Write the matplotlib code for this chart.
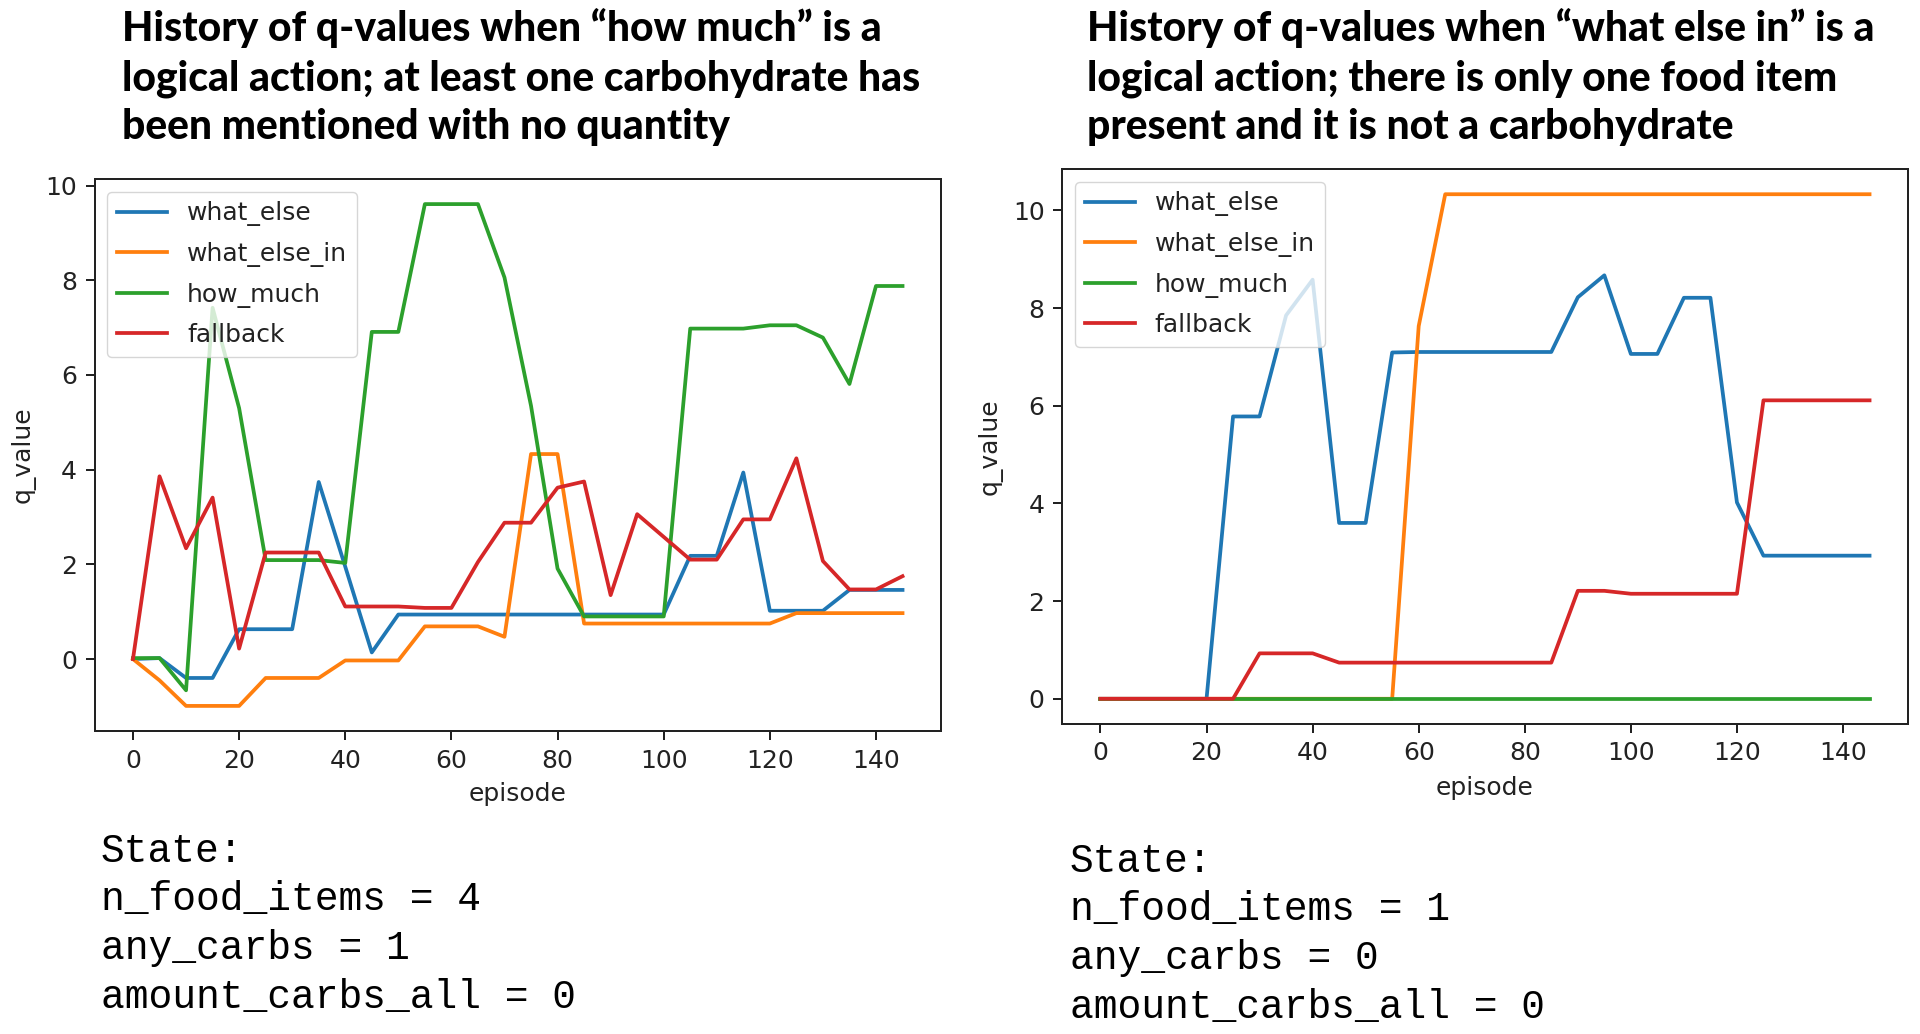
import matplotlib
matplotlib.use("Agg")
import matplotlib.pyplot as plt

episodes = [0, 5, 10, 15, 20, 25, 30, 35, 40, 45, 50, 55, 60, 65, 70,
            75, 80, 85, 90, 95, 100, 105, 110, 115, 120, 125, 130, 135, 140, 145]

# left panel: "how much" is a logical action
what_else_L = [0, 0.02, -0.40, -0.40, 0.63, 0.63, 0.63, 3.74, 1.95, 0.14,
               0.94, 0.94, 0.94, 0.94, 0.94, 0.94, 0.94, 0.94, 0.94, 0.94,
               0.94, 2.18, 2.18, 3.94, 1.02, 1.02, 1.02, 1.46, 1.46, 1.46]
what_else_in_L = [0, -0.45, -0.99, -0.99, -0.99, -0.40, -0.40, -0.40, -0.03, -0.03,
                  -0.03, 0.69, 0.69, 0.69, 0.47, 4.33, 4.33, 0.75, 0.75, 0.75,
                  0.75, 0.75, 0.75, 0.75, 0.75, 0.97, 0.97, 0.97, 0.97, 0.97]
how_much_L = [0.02, 0.02, -0.66, 7.42, 5.3, 2.09, 2.09, 2.09, 2.03, 6.91,
              6.91, 9.61, 9.61, 9.61, 8.06, 5.35, 1.91, 0.90, 0.90, 0.90,
              0.90, 6.98, 6.98, 6.98, 7.05, 7.05, 6.79, 5.81, 7.88, 7.88]
fallback_L = [0, 3.86, 2.34, 3.41, 0.22, 2.25, 2.25, 2.25, 1.11, 1.11,
              1.11, 1.08, 1.08, 2.05, 2.88, 2.88, 3.62, 3.75, 1.35, 3.06,
              2.58, 2.10, 2.10, 2.95, 2.95, 4.24, 2.07, 1.47, 1.47, 1.75]

# right panel: "what else in" is a logical action
what_else_R = [0, 0, 0, 0, 0, 5.78, 5.78, 7.85, 8.58, 3.60,
               3.60, 7.09, 7.10, 7.10, 7.10, 7.10, 7.10, 7.10, 8.22, 8.67,
               7.06, 7.06, 8.21, 8.21, 4.02, 2.93, 2.93, 2.93, 2.93, 2.93]
what_else_in_R = [0, 0, 0, 0, 0, 0, 0, 0, 0, 0,
                  0, 0, 7.63, 10.33, 10.33, 10.33, 10.33, 10.33, 10.33, 10.33,
                  10.33, 10.33, 10.33, 10.33, 10.33, 10.33, 10.33, 10.33, 10.33, 10.33]
how_much_R = [0, 0, 0, 0, 0, 0, 0, 0, 0, 0,
              0, 0, 0, 0, 0, 0, 0, 0, 0, 0,
              0, 0, 0, 0, 0, 0, 0, 0, 0, 0]
fallback_R = [0, 0, 0, 0, 0, 0, 0.93, 0.93, 0.93, 0.74,
              0.74, 0.74, 0.74, 0.74, 0.74, 0.74, 0.74, 0.74, 2.21, 2.21,
              2.15, 2.15, 2.15, 2.15, 2.15, 6.11, 6.11, 6.11, 6.11, 6.11]

labels = ["what_else", "what_else_in", "how_much", "fallback"]

title_L = ["History of q-values when \u201chow much\u201d is a",
           "logical action; at least one carbohydrate has",
           "been mentioned with no quantity"]
title_R = ["History of q-values when \u201cwhat else in\u201d is a",
           "logical action; there is only one food item",
           "present and it is not a carbohydrate"]
state_L = ["State:", "n_food_items = 4", "any_carbs = 1", "amount_carbs_all = 0"]
state_R = ["State:", "n_food_items = 1", "any_carbs = 0", "amount_carbs_all = 0"]

plt.rcParams.update({
    "font.size": 18,
    "lines.linewidth": 2.7,
    "axes.linewidth": 1.44,
    "xtick.major.size": 6.3, "ytick.major.size": 6.3,
    "xtick.major.width": 1.44, "ytick.major.width": 1.44,
    "xtick.major.pad": 6.3, "ytick.major.pad": 6.3,
    "axes.labelpad": 7.2,
    "legend.labelspacing": 0.62,
    "text.color": "#222222", "axes.labelcolor": "#222222",
    "xtick.color": "#222222", "ytick.color": "#222222",
    "axes.edgecolor": "#222222",
})

W, H = 1920, 1034
fig = plt.figure(figsize=(W / 100, H / 100), dpi=100)


def px(x, y):
    return x / W, 1 - y / H


axL = fig.add_axes([94.5 / W, 1 - 731 / H, (941 - 94.5) / W, (731 - 179) / H])
axR = fig.add_axes([1062 / W, 1 - 724 / H, (1908 - 1062) / W, (724 - 169) / H])

for ax, series in [(axL, [what_else_L, what_else_in_L, how_much_L, fallback_L]),
                   (axR, [what_else_R, what_else_in_R, how_much_R, fallback_R])]:
    for s, lab in zip(series, labels):
        ax.plot(episodes, s, label=lab)
    ax.set_xlabel("episode")
    ax.set_ylabel("q_value")
    ax.set_xticks([0, 20, 40, 60, 80, 100, 120, 140])
    ax.legend(loc="upper left")

title_font = ["Lato", "DejaVu Sans"]
for lines, x0 in [(title_L, 122), (title_R, 1087)]:
    for i, line in enumerate(lines):
        fx, fy = px(x0, 41.5 + i * 48.5)
        fig.text(fx, fy, line, family=title_font, weight="black", fontsize=29.3,
                 color="black", va="baseline", ha="left")

for lines, x0, y0 in [(state_L, 101, 851), (state_R, 1070, 861)]:
    for i, line in enumerate(lines):
        fx, fy = px(x0, y0 + i * 48.5)
        fig.text(fx, fy, line, family=["Liberation Mono", "DejaVu Sans Mono"],
                 fontsize=28.5, color="black", va="center", ha="left")

fig.savefig("out.png", dpi=100)
